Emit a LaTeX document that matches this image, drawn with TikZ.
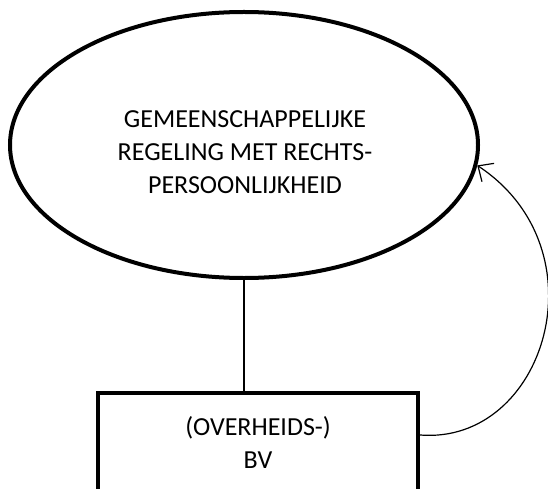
\documentclass[tikz,border=0pt]{standalone}
\usepackage{fontspec}
\setmainfont{Carlito}
\usetikzlibrary{shapes.geometric,arrows.meta}
\begin{document}
\begin{tikzpicture}[x=1pt,y=-1pt,
  thickline/.style={line width=4pt},
  lbl/.style={font=\fontsize{26}{33}\selectfont, align=center, inner sep=0pt}]
\useasboundingbox (0,0) rectangle (548,489);
\node[ellipse, draw, thickline, minimum width=468pt, minimum height=266pt, inner sep=0pt] (ell) at (244,145) {};
\node[lbl] (elltxt) at (245,152) {GEMEENSCHAPPELIJKE\\REGELING MET RECHTS-\\PERSOONLIJKHEID};
\node[rectangle, draw, thickline, minimum width=320pt, minimum height=99pt, inner sep=0pt] (box) at (258,442.5) {};
\node[lbl] (boxtxt) at (258,442) {(OVERHEIDS-)\\BV};
\draw[line width=1.2pt] (ell.south) -- (ell.south |- box.north);
\draw[line width=1.2pt, -{Straight Barb[length=12pt,width=22pt]}] (box.east |- 0,435) .. controls (545,445) and (605,250) .. (ell.-5);
\end{tikzpicture}
\end{document}
